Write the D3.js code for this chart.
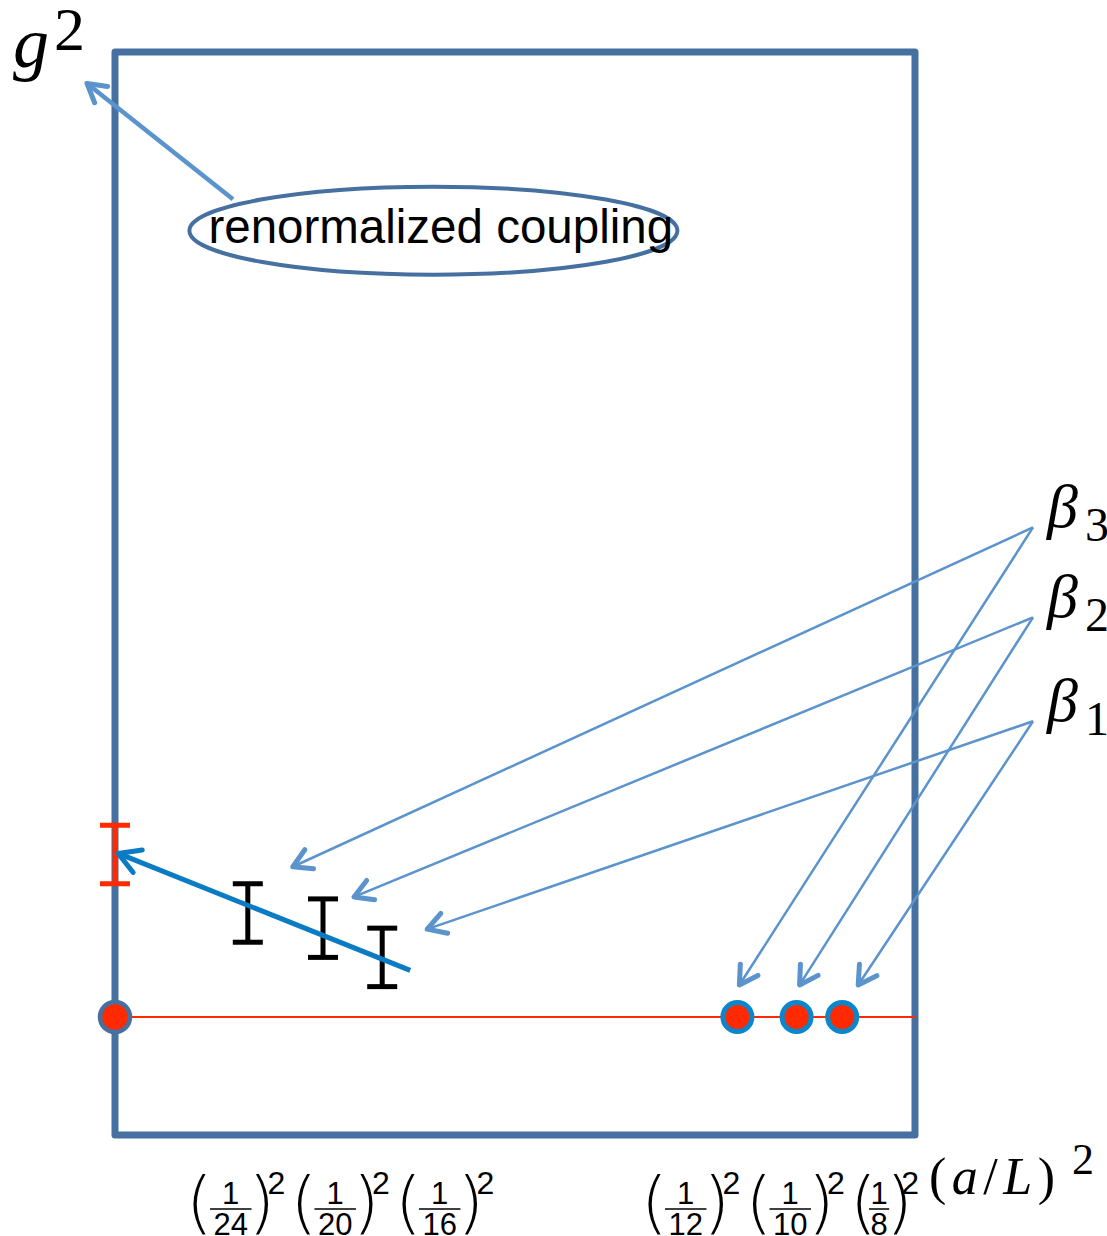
<!DOCTYPE html>
<html>
<head>
<meta charset="utf-8">
<script src="https://cdn.jsdelivr.net/npm/d3@7"></script>
<style>
  body { margin: 0; background: #fff; }
  svg { display: block; }
  .paren { font-family: "DejaVu Sans", sans-serif; font-weight: 200; font-size: 68px; }
  .frac { font-family: "Liberation Sans", Arial, sans-serif; font-size: 31px; }
  .sup { font-family: "Liberation Sans", Arial, sans-serif; font-size: 32px; }
  .serif { font-family: "Liberation Serif", "Times New Roman", serif; }
</style>
</head>
<body>
<div id="chart"></div>
<script>
// step scaling: coarse lattices L/a and their doubled partners 2L/a
const coarseL = ["12", "10", "8"];
const fineL = ["24", "20", "16"];
const betaSub = ["3", "2", "1"];

// schematic x positions (fraction of the frame width)
const coarseX = [0.778, 0.852, 0.909];
const fineX = [0.166, 0.260, 0.334];

// g^2 in frame-height units
const inputCoupling = 0.109;
const fineLo = [0.178, 0.164, 0.137];
const fineHi = [0.232, 0.218, 0.191];
const contLo = 0.232;
const contHi = 0.286;

// linear continuum extrapolation
const fitX = [0.369, 0.004];
const fitY = [0.152, 0.260];

// annotation anchors
const betaAnchorX = 1.1475;
const betaAnchorY = [0.561, 0.478, 0.382];
const bubble = { x: 0.398, y: 0.835, text: "renormalized coupling" };
const bubbleArrow = { x: [0.1475, -0.035], y: [0.864, 0.971] };

const W = 1107, H = 1236;
const frameColor = "#46709f";
const arrowColor = "#5b93cc";
const red = "#ff2a00";
const ptBlue = "#0a86cc";
const fitBlue = "#0b7bc4";

const x = d3.scaleLinear().domain([0, 1]).range([115, 915]);
const y = d3.scaleLinear().domain([0, 1]).range([1135, 52]);

const svg = d3.select("#chart").append("svg")
    .attr("width", W)
    .attr("height", H);

const defs = svg.append("defs");
function addMarker(id, color, len) {
    defs.append("marker")
        .attr("id", id)
        .attr("markerUnits", "userSpaceOnUse")
        .attr("viewBox", "-40 -20 50 40")
        .attr("markerWidth", 50)
        .attr("markerHeight", 40)
        .attr("refX", 0)
        .attr("refY", 0)
        .attr("orient", "auto")
        .style("overflow", "visible")
        .append("path")
        .attr("d", `M${-len},${-len * 0.58}L0,0L${-len},${len * 0.58}`)
        .attr("fill", "none")
        .attr("stroke", color)
        .attr("stroke-width", 5)
        .attr("stroke-linecap", "round")
        .attr("stroke-linejoin", "round");
}
addMarker("headThin", arrowColor, 18);
addMarker("headFit", fitBlue, 21);

// frame
svg.append("rect")
    .attr("x", x(0))
    .attr("y", y(1))
    .attr("width", x(1) - x(0))
    .attr("height", y(0) - y(1))
    .attr("fill", "none")
    .attr("stroke", frameColor)
    .attr("stroke-width", 7)
    .attr("stroke-linejoin", "round");

// input coupling level
svg.append("line")
    .attr("x1", x(0)).attr("x2", x(1))
    .attr("y1", y(inputCoupling)).attr("y2", y(inputCoupling))
    .attr("stroke", red)
    .attr("stroke-width", 2);

// beta arrows (drawn under the marks)
const fineTipDx = [45, 31, 45], fineTipDy = [-17, -2, 1];
const coarseTipDx = [2, 3, 16], coarseTipDy = -32;
const arrows = svg.append("g");
betaSub.forEach((s, i) => {
    const ax = x(betaAnchorX), ay = y(betaAnchorY[i]);
    arrows.append("line")
        .attr("x1", ax).attr("y1", ay)
        .attr("x2", x(fineX[i]) + fineTipDx[i])
        .attr("y2", y(fineHi[i]) + fineTipDy[i])
        .attr("stroke", arrowColor).attr("stroke-width", 2.5)
        .attr("marker-end", "url(#headThin)");
    arrows.append("line")
        .attr("x1", ax).attr("y1", ay)
        .attr("x2", x(coarseX[i]) + coarseTipDx[i])
        .attr("y2", y(inputCoupling) + coarseTipDy)
        .attr("stroke", arrowColor).attr("stroke-width", 2.5)
        .attr("marker-end", "url(#headThin)");
    svg.append("text")
        .attr("class", "serif")
        .attr("x", ax + 14).attr("y", ay)
        .attr("font-size", 62)
        .attr("font-style", "italic")
        .text("β");
    svg.append("text")
        .attr("class", "serif")
        .attr("x", ax + 52).attr("y", ay + 14)
        .attr("font-size", 48)
        .text(s);
});

// coarse lattice points
svg.selectAll("circle.coarse")
    .data(coarseX)
    .enter().append("circle")
    .attr("class", "coarse")
    .attr("cx", d => x(d))
    .attr("cy", y(inputCoupling))
    .attr("r", 14.5)
    .attr("fill", red)
    .attr("stroke", ptBlue)
    .attr("stroke-width", 5);

svg.append("circle")
    .attr("cx", x(0))
    .attr("cy", y(inputCoupling))
    .attr("r", 15)
    .attr("fill", red)
    .attr("stroke", frameColor)
    .attr("stroke-width", 4.5);

// error bars
function errorBar(cx, lo, hi, color) {
    const g = svg.append("g")
        .attr("stroke", color)
        .attr("stroke-width", 5);
    g.append("line").attr("x1", cx).attr("x2", cx).attr("y1", y(lo)).attr("y2", y(hi));
    g.append("line").attr("x1", cx - 15).attr("x2", cx + 15).attr("y1", y(lo)).attr("y2", y(lo));
    g.append("line").attr("x1", cx - 15).attr("x2", cx + 15).attr("y1", y(hi)).attr("y2", y(hi));
}
fineX.forEach((d, i) => errorBar(x(d), fineLo[i], fineHi[i], "#000"));
errorBar(x(0), contLo, contHi, red);

// extrapolation line
svg.append("path")
    .datum(fitX.map((d, i) => [d, fitY[i]]))
    .attr("d", d3.line().x(d => x(d[0])).y(d => y(d[1])))
    .attr("fill", "none")
    .attr("stroke", fitBlue)
    .attr("stroke-width", 5)
    .attr("marker-end", "url(#headFit)");

// renormalized coupling bubble
svg.append("line")
    .attr("x1", x(bubbleArrow.x[0])).attr("y1", y(bubbleArrow.y[0]))
    .attr("x2", x(bubbleArrow.x[1])).attr("y2", y(bubbleArrow.y[1]))
    .attr("stroke", arrowColor)
    .attr("stroke-width", 4.5)
    .attr("marker-end", "url(#headThin)");
svg.append("ellipse")
    .attr("cx", x(bubble.x)).attr("cy", y(bubble.y))
    .attr("rx", 244).attr("ry", 44)
    .attr("fill", "none")
    .attr("stroke", frameColor)
    .attr("stroke-width", 4);
svg.append("text")
    .attr("x", x(bubble.x) - 225)
    .attr("y", y(bubble.y) + 12)
    .attr("font-family", "'Liberation Sans', Arial, sans-serif")
    .attr("font-size", 47.5)
    .text(bubble.text);

// y label g^2
svg.append("text").attr("class", "serif")
    .attr("x", 13).attr("y", 67)
    .attr("font-size", 72).attr("font-style", "italic")
    .text("g");
svg.append("text").attr("class", "serif")
    .attr("x", 54).attr("y", 50)
    .attr("font-size", 62)
    .text("2");

// x tick labels (1/L)^2
const axisG = svg.append("g");
function term(x0, den) {
    const g = axisG.append("g");
    g.append("text").attr("class", "paren").attr("x", x0 - 4).attr("y", 1226).text("(");
    const d = g.append("text").attr("class", "frac").attr("y", 1235)
        .attr("text-anchor", "middle").text(den);
    const w = d.node().getComputedTextLength();
    const narrow = w < 25;
    const barL = x0 + (narrow ? 15 : 20);
    const barR = barL + w + (narrow ? 3 : 7);
    d.attr("x", (barL + barR) / 2);
    g.append("text").attr("class", "frac").attr("x", (barL + barR) / 2).attr("y", 1204)
        .attr("text-anchor", "middle").text("1");
    g.append("line").attr("x1", barL).attr("x2", barR).attr("y1", 1209).attr("y2", 1209)
        .attr("stroke", "#000").attr("stroke-width", 1.5);
    g.append("text").attr("class", "paren").attr("x", barR - 3).attr("y", 1226).text(")");
    const supX = barR + (narrow ? 12 : 16);
    g.append("text").attr("class", "sup").attr("x", supX).attr("y", 1194).text("2");
    return supX + 27;
}
let cx = 190;
fineL.forEach(d => { cx = term(cx, d); });
cx = 645;
coarseL.forEach(d => { cx = term(cx, d); });

const aL = axisG.append("text").attr("class", "serif")
    .attr("x", 929).attr("y", 1194)
    .attr("font-size", 52)
    .attr("letter-spacing", 5.5);
aL.append("tspan").text("(");
aL.append("tspan").attr("font-style", "italic").text("a");
aL.append("tspan").text("/");
aL.append("tspan").attr("font-style", "italic").text("L");
aL.append("tspan").text(")");
axisG.append("text").attr("class", "serif")
    .attr("x", 1072).attr("y", 1174)
    .attr("font-size", 44)
    .text("2");
</script>
</body>
</html>
